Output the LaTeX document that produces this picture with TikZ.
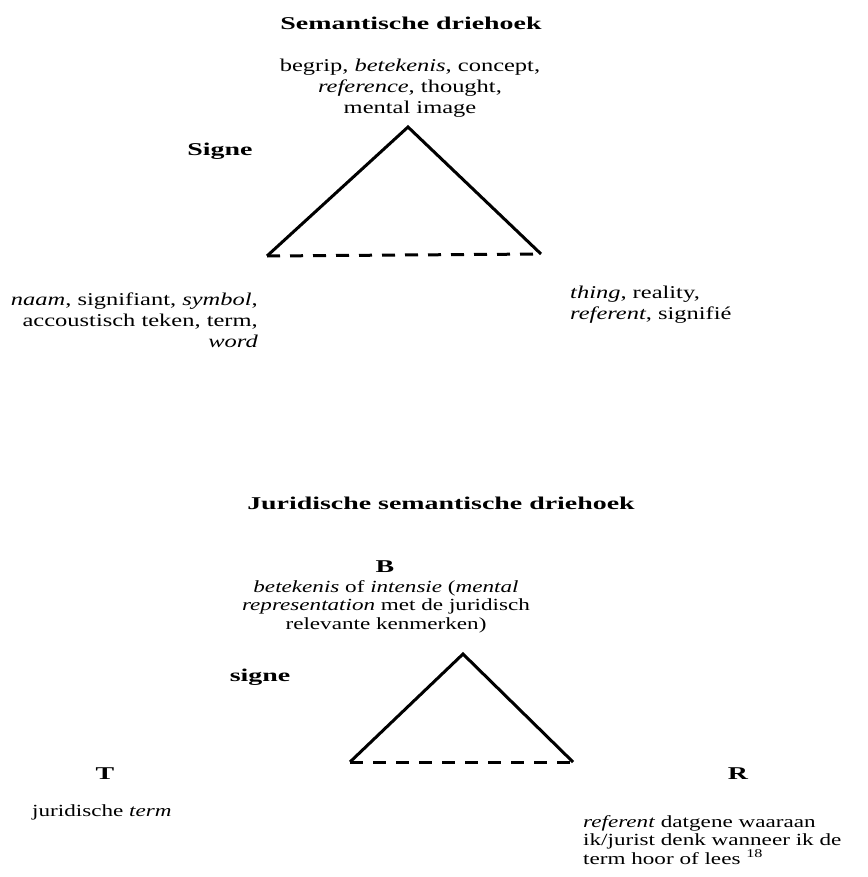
\documentclass[tikz,border=0pt]{standalone}
\usepackage{fontspec}
\setmainfont[FakeStretch=1.36]{Liberation Serif}
\newfontfamily\boldwide[FakeStretch=1.55]{Liberation Serif}
\begin{document}
\begin{tikzpicture}[x=1pt,y=-1pt,
  txt/.style={inner sep=0pt,font=\fontsize{18}{21}\selectfont},
  txtb/.style={inner sep=0pt,font=\fontsize{17}{18.5}\selectfont},
  ttl/.style={inner sep=0pt,font=\fontsize{18}{21}\selectfont\boldwide\bfseries},
  side/.style={line width=3pt,line join=miter},
  base/.style={line width=3pt,dash pattern=on 13pt off 10pt}]
\useasboundingbox[fill=white] (0,0) rectangle (867,877);
% ---- upper triangle
\node[ttl] (t1) at (411,23) {Semantische driehoek};
\node[txt,align=center,anchor=north] (top1) at (410,59) {begrip, \textit{betekenis}, concept,\\\textit{reference}, thought,\\mental image};
\node[ttl] (signe1) at (220,151) {Signe};
\coordinate (a1) at (408,127);
\coordinate (l1) at (267,256);
\coordinate (r1) at (541,254);
\draw[side] (l1) -- (a1) -- (r1);
\draw[base] (l1) -- (r1);
\node[txt,align=right,anchor=north east] (left1) at (258,293) {\textit{naam}, signifiant, \textit{symbol},\\accoustisch teken, term,\\\textit{word}};
\node[txt,align=left,anchor=north west] (right1) at (570,286) {\textit{thing}, reality,\\\textit{referent}, signifié};
% ---- lower triangle
\node[ttl] (t2) at (441,503) {Juridische semantische driehoek};
\node[ttl] (B) at (385,567) {B};
\node[txtb,align=center,anchor=north] (top2) at (386,580) {\textit{betekenis} of \textit{intensie} (\textit{mental}\\\textit{representation} met de juridisch\\relevante kenmerken)};
\node[ttl] (signe2) at (260,677) {signe};
\coordinate (a2) at (463,654);
\coordinate (l2) at (350,762);
\coordinate (r2) at (573,762);
\draw[side] (l2) -- (a2) -- (r2);
\draw[base] (l2) -- (r2);
\node[ttl] (T) at (105,774) {T};
\node[ttl] (R) at (738,774) {R};
\node[txtb,anchor=west] (left2) at (32,812) {juridische \textit{term}};
\node[txtb,align=left,anchor=north west] (right2) at (583,815) {\textit{referent} datgene waaraan\\ik/jurist denk wanneer ik de\\term hoor of lees \textsuperscript{18}};
\end{tikzpicture}
\end{document}
